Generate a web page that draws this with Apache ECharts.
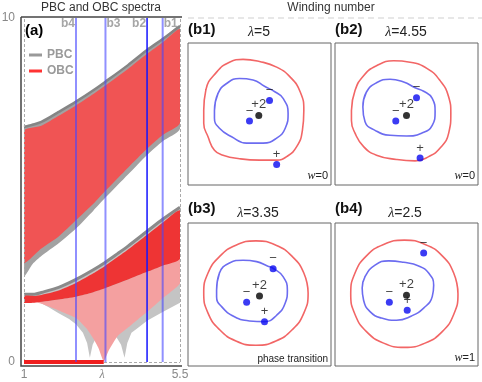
<!DOCTYPE html>
<html><head><meta charset="utf-8">
<script src="https://cdn.jsdelivr.net/npm/echarts@6/dist/echarts.min.js"></script>
<style>html,body{margin:0;padding:0;background:#fff}#c{width:482px;height:382px}</style>
</head><body><div id="c"></div>
<script>
// ================= DATA =================
// Panel (a): spectra |E| vs lambda
const lambdaTicks = [1, 3.25, 5.5];
const lambdaTickText = ['1', 'λ', '5.5'];
const energyTicks = [0, 10];
const cutLambdas = [2.5, 3.35, 4.55, 5];
const cutNames = ['b4', 'b3', 'b2', 'b1'];

// upper band (PBC envelope, grey)
const topPbcUpper = [[1,6.83],[1.5,6.98],[2,7.27],[2.5,7.57],[3,7.9],[3.35,8.15],[4,8.63],[4.55,9.07],[5,9.39],[5.5,9.77]];
const topPbcLower = [[1,2.5],[1.25,2.85],[1.5,3.08],[2,3.45],[2.5,3.88],[3,4.4],[3.35,4.78],[4,5.45],[4.55,6.02],[5,6.42],[5.5,6.78]];
// upper band (OBC envelope, red)
const topObcUpper = [[1,6.72],[1.5,6.87],[2,7.16],[2.5,7.46],[3,7.79],[3.35,8.04],[4,8.52],[4.55,8.96],[5,9.29],[5.5,9.67]];
const topObcLower = [[1,2.9],[1.5,3.3],[2,3.65],[2.5,4.12],[3,4.6],[3.35,4.98],[4,5.65],[4.55,6.2],[5,6.6],[5.5,6.95]];
// middle band (PBC)
const midPbcUpper = [[1,1.97],[1.3,1.97],[1.5,2.02],[2,2.17],[2.5,2.4],[3,2.68],[3.35,2.9],[3.7,3.15],[4,3.37],[4.55,3.8],[5,4.15],[5.5,4.5]];
const midPbcLower = [[1,1.78],[1.4,1.76],[1.7,1.6],[2.0,1.42],[2.3,1.25],[2.5,1.1],[2.7,0.85],[2.82,0.55],[2.9,0.12],[2.98,0.5],[3.1,0.75],[3.2,0.8],[3.5,0.8],[3.65,0.75],[3.8,0.5],[3.9,0.12],[3.98,0.55],[4.1,0.85],[4.3,1.0],[4.55,1.2],[5,1.45],[5.5,1.72]];
// middle band (OBC)
const midObcUpper = [[1,1.92],[1.3,1.92],[1.5,1.95],[2,2.08],[2.5,2.3],[3,2.58],[3.35,2.8],[3.7,3.05],[4,3.27],[4.55,3.7],[5,4.05],[5.5,4.4]];
const midObcDense = [[1,1.72],[1.4,1.74],[2,1.82],[2.5,1.9],[3,2.03],[3.35,2.15],[4,2.4],[4.55,2.62],[5,2.8],[5.5,3.0]];
const midObcLower = [[1,1.72],[1.4,1.72],[1.7,1.62],[2,1.5],[2.5,1.28],[2.8,0.98],[3.0,0.68],[3.15,0.4],[3.3,0.02],[3.45,0.35],[3.7,0.75],[4,1.0],[4.3,1.25],[4.55,1.45],[5,1.85],[5.5,2.28]];
// zero modes (OBC)
const zeroModes = [[1,0],[3.3,0]];

// Panels (b1)-(b4): complex-plane loops (normalised units)
const panelTags = ['(b1)','(b2)','(b3)','(b4)'];
const panelLambda = ['5','4.55','3.35','2.5'];
const panelNotes = ['w=0','w=0','phase transition','w=1'];
const obcLoopB1 = [[-0.78,0.05],[-0.75,0.34],[-0.60,0.59],[-0.42,0.73],[-0.23,0.77],[0.0,0.74],[0.24,0.66],[0.43,0.52],[0.57,0.31],[0.62,0.05],[0.60,-0.23],[0.52,-0.46],[0.38,-0.60],[0.24,-0.65],[0.0,-0.65],[-0.28,-0.63],[-0.51,-0.58],[-0.63,-0.51],[-0.72,-0.32],[-0.78,-0.13]];
const pbcLoopB1 = [[-0.63,0.05],[-0.58,0.29],[-0.46,0.43],[-0.28,0.50],[-0.09,0.48],[0.07,0.39],[0.22,0.31],[0.33,0.22],[0.40,0.01],[0.36,-0.20],[0.24,-0.34],[0.05,-0.41],[-0.18,-0.41],[-0.39,-0.32],[-0.56,-0.20],[-0.63,-0.06]];
const obcLoopB2 = [[-0.77,0.05],[-0.72,0.33],[-0.60,0.54],[-0.42,0.68],[-0.18,0.75],[0.05,0.73],[0.29,0.64],[0.47,0.47],[0.59,0.24],[0.62,0.01],[0.59,-0.27],[0.47,-0.48],[0.31,-0.60],[0.12,-0.66],[-0.14,-0.64],[-0.42,-0.58],[-0.60,-0.46],[-0.72,-0.27],[-0.77,-0.09]];
const pbcLoopB2 = [[-0.61,0.10],[-0.56,0.31],[-0.42,0.44],[-0.23,0.49],[-0.04,0.45],[0.12,0.37],[0.24,0.32],[0.36,0.22],[0.40,0.03],[0.36,-0.16],[0.21,-0.27],[0.0,-0.31],[-0.23,-0.30],[-0.44,-0.23],[-0.58,-0.11]];
const obcLoopB3 = [[0.68,0.02],[0.62,0.30],[0.46,0.53],[0.23,0.69],[-0.05,0.75],[-0.33,0.69],[-0.56,0.53],[-0.72,0.30],[-0.78,0.02],[-0.72,-0.26],[-0.56,-0.49],[-0.33,-0.65],[-0.05,-0.71],[0.23,-0.65],[0.46,-0.49],[0.62,-0.26]];
const pbcLoopB3 = [[-0.60,0.06],[-0.56,0.30],[-0.42,0.44],[-0.23,0.48],[-0.04,0.46],[0.11,0.40],[0.20,0.36],[0.33,0.25],[0.39,0.06],[0.36,-0.12],[0.24,-0.29],[0.07,-0.38],[-0.14,-0.37],[-0.35,-0.31],[-0.53,-0.17],[-0.60,-0.03]];
const obcLoopB4 = [[0.72,0.01],[0.66,0.30],[0.50,0.54],[0.26,0.70],[-0.03,0.76],[-0.32,0.70],[-0.56,0.54],[-0.72,0.30],[-0.78,0.01],[-0.72,-0.28],[-0.56,-0.52],[-0.32,-0.68],[-0.03,-0.74],[0.26,-0.68],[0.50,-0.52],[0.66,-0.28]];
const pbcLoopB4 = [[-0.62,0.09],[-0.58,0.25],[-0.44,0.41],[-0.25,0.47],[-0.04,0.45],[0.17,0.40],[0.31,0.30],[0.38,0.13],[0.36,-0.03],[0.24,-0.19],[0.07,-0.30],[-0.14,-0.36],[-0.35,-0.33],[-0.51,-0.24],[-0.60,-0.08]];
const zerosB1 = [[0.14,0.19],[-0.14,-0.10],[0.24,-0.71]];
const zerosB2 = [[0.14,0.23],[-0.15,-0.10],[0.19,-0.62]];
const zerosB3 = [[0.19,0.36],[-0.18,-0.11],[0.07,-0.38]];
const zerosB4 = [[0.24,0.58],[-0.24,-0.11],[0.01,-0.22]];
const zeroSigns = ['−','−','+'];
const poles = [[-0.01,-0.02],[0.0,-0.02],[0.0,-0.02],[0.0,-0.01]];
const poleOrder = '+2';

const obcLoops = [obcLoopB1, obcLoopB2, obcLoopB3, obcLoopB4];
const pbcLoops = [pbcLoopB1, pbcLoopB2, pbcLoopB3, pbcLoopB4];
const zerosAll = [zerosB1, zerosB2, zerosB3, zerosB4];

// ================= CHART =================
const FONT = 'Liberation Sans, Arial, sans-serif';
const chart = echarts.init(document.getElementById('c'), null, {renderer: 'canvas', width: 482, height: 382});

function band(name, upper, lower, fill, z, smooth) {
  return {
    type: 'custom', name, xAxisIndex: 0, yAxisIndex: 0, z, silent: true, clip: true,
    data: [[1, 0]],
    renderItem: (p, api) => {
      const pts = upper.map(q => api.coord(q)).concat(lower.slice().reverse().map(q => api.coord(q)));
      return {type: 'polygon', shape: {points: pts, smooth: smooth}, style: {fill: fill, stroke: null}};
    }
  };
}
function loop(points, color, gi, z) {
  return {
    type: 'line', xAxisIndex: gi, yAxisIndex: gi, z, silent: true, smooth: 0.5, symbol: 'none',
    data: points.concat([points[0], points[1]]).map(q => q.slice()),
    lineStyle: {color: color, width: 1.6}
  };
}

const grids = [{left: 24, right: 302, top: 18, bottom: 20, outerBoundsMode: 'none', containLabel: false}];
const panelBoxes = [[188,43,143,142],[335,43,143,142],[188,223,143,143],[335,223,143,143]];
panelBoxes.forEach(b => grids.push({left: b[0], top: b[1], width: b[2], height: b[3], outerBoundsMode: 'none', containLabel: false, show: true, borderColor: '#666', borderWidth: 1}));

const xAxes = [{
  gridIndex: 0, type: 'value', min: 1, max: 5.5, offset: 4,
  axisLine: {show: false}, axisTick: {show: false}, splitLine: {show: false},
  axisLabel: {customValues: lambdaTicks, margin: 3, color: '#888', fontSize: 12, fontFamily: FONT,
    formatter: v => { const i = lambdaTicks.indexOf(v); const t = i >= 0 ? lambdaTickText[i] : ''; return t === 'λ' ? '{i|λ}' : t; },
    rich: {i: {fontStyle: 'italic', fontSize: 12, color: '#888', fontFamily: 'Liberation Serif, serif'}}}
}];
const yAxes = [{
  gridIndex: 0, type: 'value', min: 0, max: 10, interval: 10, offset: 3,
  axisLine: {show: false}, axisTick: {show: false}, splitLine: {show: false},
  axisLabel: {margin: 6, color: '#888', fontSize: 12, fontFamily: FONT},
  name: '|E|', nameLocation: 'middle', nameGap: 6, nameRotate: 0,
  nameTextStyle: {color: '#888', fontSize: 12, fontFamily: FONT, align: 'right', verticalAlign: 'middle'}
}];
for (let i = 1; i <= 4; i++) {
  xAxes.push({gridIndex: i, type: 'value', min: -1, max: 1, show: false});
  yAxes.push({gridIndex: i, type: 'value', min: -1, max: 1, show: false});
}

const series = [];
// dashed plot-range lines
series.push({type: 'line', xAxisIndex: 0, yAxisIndex: 0, data: [], z: 0, silent: true,
  markLine: {silent: true, symbol: 'none', label: {show: false},
    lineStyle: {type: [3, 2], color: '#aaa', width: 1},
    data: [{xAxis: 1}, {xAxis: 5.5}, {yAxis: 0}]}});
series.push(band('PBC', topPbcUpper, topPbcLower, '#a2a2a2', 2, 0.2));
series.push({type: 'line', xAxisIndex: 0, yAxisIndex: 0, data: topPbcUpper, smooth: 0.3, symbol: 'none', z: 3, silent: true,
  lineStyle: {color: '#858585', width: 2.5}});
series.push(band('OBC', topObcUpper, topObcLower, '#f05454', 3, 0.2));
series.push(band('PBC mid', midPbcUpper, midPbcLower, '#c4c4c4', 2, 0));
series.push({type: 'line', xAxisIndex: 0, yAxisIndex: 0, data: midPbcUpper, smooth: 0.3, symbol: 'none', z: 3, silent: true,
  lineStyle: {color: '#8a8a8a', width: 3}});
series.push(band('OBC fan', midObcDense, midObcLower, '#f4a0a0', 3, 0.15));
series.push(band('OBC mid', midObcUpper, midObcDense, '#ee3434', 4, 0.2));
series.push({type: 'line', xAxisIndex: 0, yAxisIndex: 0, data: zeroModes, symbol: 'none', z: 5, silent: true,
  lineStyle: {color: '#f01e1e', width: 4}});
cutLambdas.forEach((l, i) => {
  series.push({type: 'line', xAxisIndex: 0, yAxisIndex: 0, z: 6, silent: true,
    symbol: 'circle', symbolSize: 0,
    lineStyle: {color: cutNames[i] === 'b2' ? '#1414ff' : 'rgba(70,70,255,0.6)', width: cutNames[i] === 'b2' ? 1.5 : 2},
    data: [[l, 0], {value: [l, 10], label: {show: true, formatter: cutNames[i],
      position: i % 2 === 0 ? 'left' : 'right', distance: 1, offset: [0, 6],
      color: '#a6a6a6', fontWeight: 'bold', fontSize: 12, fontFamily: FONT}}]});
});

// panels
for (let k = 0; k < 4; k++) {
  const gi = k + 1;
  series.push(loop(obcLoops[k], '#f26666', gi, 2));
  series.push(loop(pbcLoops[k], '#6c6cf0', gi, 2));
  series.push({type: 'scatter', xAxisIndex: gi, yAxisIndex: gi, z: 4, silent: true, symbolSize: 7,
    itemStyle: {color: '#0a0af0'},
    data: zerosAll[k].map((p, j) => ({value: p, label: {show: true, formatter: zeroSigns[j]}})),
    label: {position: 'top', distance: 0, color: '#111', fontSize: 13, fontFamily: FONT}});
  series.push({type: 'scatter', xAxisIndex: gi, yAxisIndex: gi, z: 4, silent: true, symbolSize: 7,
    itemStyle: {color: '#000'},
    data: [poles[k]],
    label: {show: true, formatter: poleOrder, position: 'top', distance: 1, color: '#111', fontSize: 13, fontFamily: FONT}});
}

// texts & frame
const g = [];
g.push({type: 'polyline', shape: {points: [[21, 17], [21, 366], [182, 366]]}, style: {stroke: '#444', lineWidth: 1.5, fill: null}, z: 10});
g.push({type: 'line', shape: {x1: 21, y1: 17, x2: 182, y2: 17}, style: {stroke: '#444', lineWidth: 1.5}, z: 10});
g.push({type: 'line', shape: {x1: 188, y1: 18, x2: 482, y2: 18}, style: {stroke: '#cfcfcf', lineWidth: 1, lineDash: [6, 4]}});
function txt(x, y, text, font, fill, align, rich) {
  const o = {type: 'text', x, y, z: 20, style: {text, font, fill, align: align || 'center', verticalAlign: 'middle'}};
  if (rich) o.style.rich = rich;
  return o;
}
g.push(txt(101, 8, 'PBC and OBC spectra', '12px ' + FONT, '#333'));
g.push(txt(331, 8, 'Winding number', '12px ' + FONT, '#333'));
g.push(txt(25, 31, '(a)', 'bold 15px ' + FONT, '#000', 'left'));
const tagPos = [[188, 30], [335, 30], [188, 209], [335, 209]];
const lamPos = [[259, 32], [406, 32], [258, 213], [405, 213]];
const notePos = [[328, 176], [475, 176], [328, 359], [475, 358]];
const richL = {i: {fontStyle: 'italic', fontSize: 14, fontFamily: 'Liberation Serif, serif', fill: '#222'}, r: {fontSize: 14, fontFamily: FONT, fill: '#222'}};
const richW = {i: {fontStyle: 'italic', fontSize: 12, fontFamily: 'Liberation Serif, serif', fill: '#222'}, r: {fontSize: 11, fontFamily: FONT, fill: '#222'}};
for (let k = 0; k < 4; k++) {
  g.push(txt(tagPos[k][0], tagPos[k][1], panelTags[k], 'bold 15px ' + FONT, '#111', 'left'));
  g.push(txt(lamPos[k][0], lamPos[k][1], '{i|λ}{r|=' + panelLambda[k] + '}', '14px ' + FONT, '#222', 'center', richL));
  const n = panelNotes[k];
  if (n.startsWith('w=')) g.push(txt(notePos[k][0], notePos[k][1], '{i|w}{r|' + n.slice(1) + '}', '11px ' + FONT, '#222', 'right', richW));
  else g.push(txt(notePos[k][0], notePos[k][1], n, '10px ' + FONT, '#222', 'right'));
}

chart.setOption({
  animation: false,
  backgroundColor: '#fff',
  grid: grids, xAxis: xAxes, yAxis: yAxes, series,
  legend: {
    left: 29, top: 49, padding: 0, orient: 'vertical', itemGap: 4, itemWidth: 13, itemHeight: 3, selectedMode: false,
    textStyle: {color: '#9a9a9a', fontWeight: 'bold', fontSize: 12, fontFamily: FONT},
    data: [{name: 'PBC', icon: 'rect', itemStyle: {color: '#999'}}, {name: 'OBC', icon: 'rect', itemStyle: {color: '#f33'}}]
  },
  graphic: g
});
</script></body></html>
